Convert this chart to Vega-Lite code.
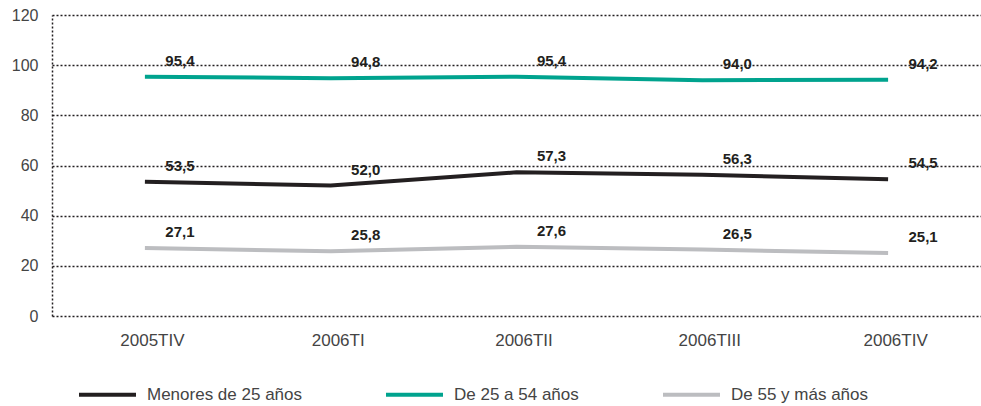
{
  "$schema": "https://vega.github.io/schema/vega-lite/v6.json",
  "autosize": {"type": "none"},
  "padding": {"left": 52, "top": 15, "right": 0, "bottom": 90},
  "width": 929,
  "height": 301,
  "background": "white",
  "config": {
    "view": {"stroke": null},
    "font": "Liberation Sans",
    "locale": {
      "number": {"decimal": ",", "thousands": ".", "grouping": [3], "currency": ["", " €"]}
    }
  },
  "data": {
    "values": [
      {"periodo": "2005TIV", "grupo": "Menores de 25 años", "valor": 53.5},
      {"periodo": "2006TI", "grupo": "Menores de 25 años", "valor": 52.0},
      {"periodo": "2006TII", "grupo": "Menores de 25 años", "valor": 57.3},
      {"periodo": "2006TIII", "grupo": "Menores de 25 años", "valor": 56.3},
      {"periodo": "2006TIV", "grupo": "Menores de 25 años", "valor": 54.5},
      {"periodo": "2005TIV", "grupo": "De 25 a 54 años", "valor": 95.4},
      {"periodo": "2006TI", "grupo": "De 25 a 54 años", "valor": 94.8},
      {"periodo": "2006TII", "grupo": "De 25 a 54 años", "valor": 95.4},
      {"periodo": "2006TIII", "grupo": "De 25 a 54 años", "valor": 94.0},
      {"periodo": "2006TIV", "grupo": "De 25 a 54 años", "valor": 94.2},
      {"periodo": "2005TIV", "grupo": "De 55 y más años", "valor": 27.1},
      {"periodo": "2006TI", "grupo": "De 55 y más años", "valor": 25.8},
      {"periodo": "2006TII", "grupo": "De 55 y más años", "valor": 27.6},
      {"periodo": "2006TIII", "grupo": "De 55 y más años", "valor": 26.5},
      {"periodo": "2006TIV", "grupo": "De 55 y más años", "valor": 25.1}
    ]
  },
  "encoding": {
    "x": {
      "field": "periodo",
      "type": "ordinal",
      "sort": ["2005TIV", "2006TI", "2006TII", "2006TIII", "2006TIV"],
      "scale": {"type": "point", "padding": 0.5},
      "axis": {
        "title": null,
        "domain": false,
        "ticks": false,
        "labelAngle": 0,
        "labelFont": "Liberation Sans",
        "labelFontSize": 17,
        "labelColor": "#444444",
        "labelPadding": 16,
        "labelOffset": 7
      }
    },
    "y": {
      "field": "valor",
      "type": "quantitative",
      "scale": {"domain": [0, 120]},
      "axis": {
        "title": null,
        "values": [0, 20, 40, 60, 80, 100, 120],
        "ticks": false,
        "domain": true,
        "domainColor": "#231f20",
        "domainDash": [2, 2],
        "domainWidth": 1.5,
        "grid": true,
        "gridColor": "#231f20",
        "gridDash": [2, 2],
        "gridWidth": 1.5,
        "gridOpacity": 1,
        "labelFont": "Liberation Sans",
        "labelFontSize": 16,
        "labelColor": "#444444",
        "labelPadding": 14
      }
    },
    "color": {
      "field": "grupo",
      "type": "nominal",
      "sort": ["Menores de 25 años", "De 25 a 54 años", "De 55 y más años"],
      "scale": {
        "domain": ["Menores de 25 años", "De 25 a 54 años", "De 55 y más años"],
        "range": ["#231f20", "#00a38e", "#bcbdc0"]
      },
      "legend": {
        "title": null,
        "orient": "none",
        "direction": "horizontal",
        "legendX": 25,
        "legendY": 349,
        "symbolType": "stroke",
        "symbolSize": 3249,
        "symbolStrokeWidth": 4,
        "labelFont": "Liberation Sans",
        "labelFontSize": 17,
        "labelColor": "#444444",
        "labelOffset": 9,
        "columnPadding": 76,
        "labelLimit": 300
      }
    }
  },
  "layer": [
    {
      "mark": {"type": "line", "strokeWidth": 4}
    },
    {
      "mark": {
        "type": "text",
        "dx": 35,
        "dy": -16,
        "fontWeight": "bold",
        "fontSize": 15,
        "font": "Liberation Sans",
        "baseline": "middle"
      },
      "encoding": {
        "text": {"field": "valor", "type": "quantitative", "format": ".1f"},
        "color": {"value": "#231f20"}
      }
    }
  ]
}
